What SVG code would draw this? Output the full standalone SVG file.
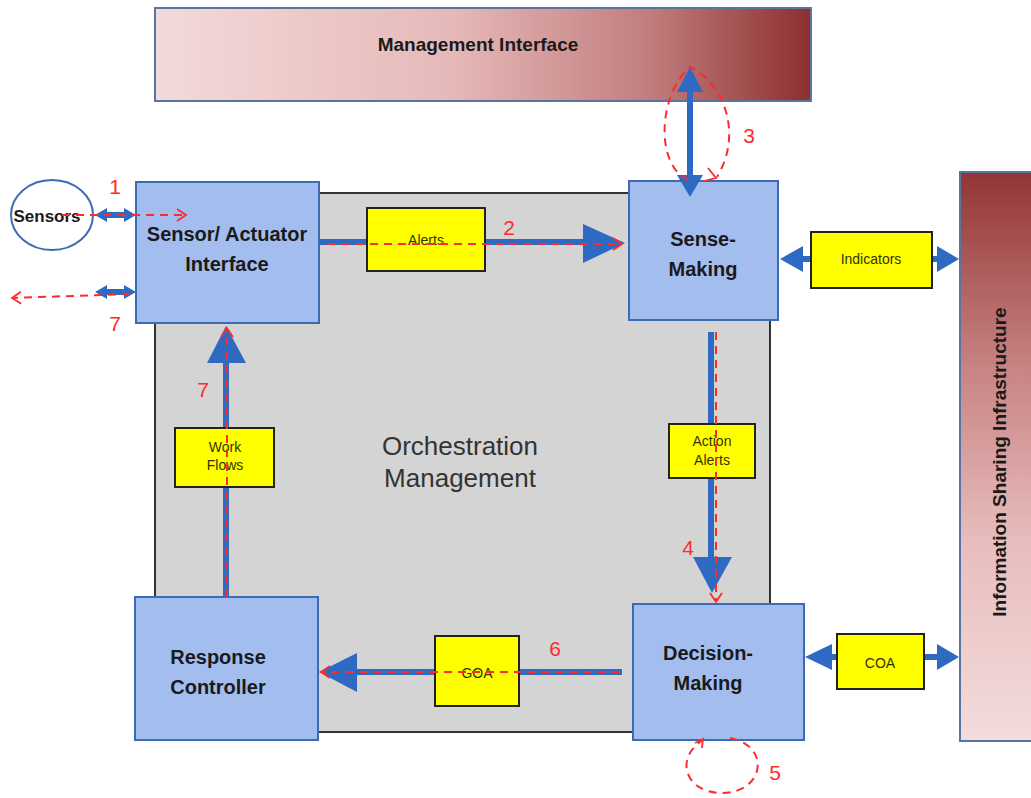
<svg xmlns="http://www.w3.org/2000/svg" width="1031" height="798" viewBox="0 0 1031 798">
  <defs>
    <linearGradient id="mgmtGrad" x1="0" y1="0" x2="1" y2="0">
      <stop offset="0" stop-color="#f3dada"/>
      <stop offset="0.45" stop-color="#e6b9b9"/>
      <stop offset="0.75" stop-color="#c27e7e"/>
      <stop offset="1" stop-color="#8d2f2f"/>
    </linearGradient>
    <linearGradient id="infoGrad" x1="0" y1="0" x2="0" y2="1">
      <stop offset="0" stop-color="#923535"/>
      <stop offset="0.35" stop-color="#c98484"/>
      <stop offset="0.65" stop-color="#e8bdbd"/>
      <stop offset="1" stop-color="#f3dcdc"/>
    </linearGradient>
    <marker id="redHead" markerWidth="14" markerHeight="14" refX="10" refY="7" orient="auto" markerUnits="userSpaceOnUse">
      <path d="M1,1 L10,7 L1,13" fill="none" stroke="#ff2a2a" stroke-width="1.8"/>
    </marker>
  </defs>
  <style>
    .block { fill: #a3bdef; stroke: #3d6bb3; stroke-width: 2; }
    .tag { fill: #ffff00; stroke: #222; stroke-width: 2; }
    .blueLine { stroke: #2e6ac2; stroke-width: 6; fill: none; }
    .blueHead { fill: #2e6ac2; }
    .redDash { stroke: #ff2a2a; stroke-width: 2; stroke-dasharray: 8 6; fill: none; }
    .blockText { font-family: "Liberation Sans", Arial, sans-serif; font-weight: bold; font-size: 20px; fill: #1a1a1a; text-anchor: middle; }
    .tagText { font-family: "Liberation Sans", Arial, sans-serif; font-size: 14px; fill: #333300; text-anchor: middle; }
    .num { font-family: "Liberation Sans", Arial, sans-serif; font-size: 21px; fill: #ff2a2a; text-anchor: middle; }
  </style>

  <rect width="1031" height="798" fill="#ffffff"/>

  <!-- central orchestration area -->
  <g id="orchestration">
    <rect x="155" y="193" width="615" height="539" fill="#d4d4d4" stroke="#333333" stroke-width="2"/>
    <text x="460" y="455" font-family="Liberation Sans, Arial, sans-serif" font-size="26" fill="#333" text-anchor="middle">Orchestration</text>
    <text x="460" y="487" font-family="Liberation Sans, Arial, sans-serif" font-size="26" fill="#333" text-anchor="middle">Management</text>
  </g>

  <!-- management interface bar -->
  <g id="management-interface">
    <rect x="155" y="8" width="656" height="93" fill="url(#mgmtGrad)" stroke="#5a74a0" stroke-width="2"/>
    <text x="478" y="51" font-family="Liberation Sans, Arial, sans-serif" font-weight="bold" font-size="19" fill="#1a1a1a" text-anchor="middle">Management Interface</text>
  </g>

  <!-- information sharing bar -->
  <g id="information-sharing">
    <rect x="960" y="172" width="75" height="569" fill="url(#infoGrad)" stroke="#5a74a0" stroke-width="2"/>
    <text transform="translate(1006,462) rotate(-90)" font-family="Liberation Sans, Arial, sans-serif" font-weight="bold" font-size="19" fill="#1a1a1a" text-anchor="middle">Information Sharing Infrastructure</text>
  </g>

  <g id="sensors">
    <ellipse cx="52" cy="215" rx="41" ry="35" fill="#ffffff" stroke="#3d6bb3" stroke-width="2"/>
    <text x="47" y="222" font-family="Liberation Sans, Arial, sans-serif" font-weight="bold" font-size="17" fill="#1a1a1a" text-anchor="middle">Sensors</text>
  </g>

  <g id="sensor-actuator-interface">
    <rect class="block" x="136" y="182" width="183" height="141"/>
    <text class="blockText" x="227" y="241">Sensor/ Actuator</text>
    <text class="blockText" x="227" y="271">Interface</text>
  </g>

  <g id="sense-making">
    <rect class="block" x="629" y="181" width="149" height="139"/>
    <text class="blockText" x="703" y="246">Sense-</text>
    <text class="blockText" x="703" y="276">Making</text>
  </g>

  <g id="decision-making">
    <rect class="block" x="633" y="604" width="171" height="136"/>
    <text class="blockText" x="708" y="660">Decision-</text>
    <text class="blockText" x="708" y="690">Making</text>
  </g>

  <g id="response-controller">
    <rect class="block" x="135" y="597" width="183" height="143"/>
    <text class="blockText" x="218" y="664">Response</text>
    <text class="blockText" x="218" y="694">Controller</text>
  </g>

  <!-- connectors: solid blue data links -->
  <g id="connectors">
    <!-- Sensors <-> interface -->
    <line class="blueLine" x1="104" y1="215" x2="127" y2="215" stroke-width="3"/>
    <path class="blueHead" d="M95,215 L107,208 L107,222 Z"/>
    <path class="blueHead" d="M136,215 L124,208 L124,222 Z"/>
    <!-- actuator output -->
    <line class="blueLine" x1="104" y1="292" x2="127" y2="292" stroke-width="3"/>
    <path class="blueHead" d="M95,292 L107,285 L107,299 Z"/>
    <path class="blueHead" d="M136,292 L124,285 L124,299 Z"/>

    <!-- Alerts: interface -> sense-making -->
    <line class="blueLine" x1="319" y1="242" x2="590" y2="242"/>
    <path class="blueHead" d="M625,243 L583,224 L583,263 Z"/>

    <!-- management <-> sense-making -->
    <line class="blueLine" x1="690" y1="85" x2="690" y2="180"/>
    <path class="blueHead" d="M690,67 L677,92 L703,92 Z"/>
    <path class="blueHead" d="M690,197 L677,175 L703,175 Z"/>

    <!-- indicators -->
    <line class="blueLine" x1="795" y1="259" x2="945" y2="259"/>
    <path class="blueHead" d="M780,259 L803,246 L803,272 Z"/>
    <path class="blueHead" d="M959,259 L937,246 L937,272 Z"/>

    <!-- action alerts: sense-making -> decision-making -->
    <line class="blueLine" x1="711" y1="332" x2="711" y2="565"/>
    <path class="blueHead" d="M712,593 L693,557 L732,557 Z"/>

    <!-- COA -->
    <line class="blueLine" x1="820" y1="657" x2="945" y2="657"/>
    <path class="blueHead" d="M805,657 L832,644 L832,670 Z"/>
    <path class="blueHead" d="M959,657 L937,644 L937,670 Z"/>

    <!-- GOA: decision-making -> response controller -->
    <line class="blueLine" x1="622" y1="672" x2="350" y2="672"/>
    <path class="blueHead" d="M319,672 L357,653 L357,692 Z"/>

    <!-- work flows: response controller -> interface -->
    <line class="blueLine" x1="226" y1="597" x2="226" y2="355"/>
    <path class="blueHead" d="M226,326 L207,363 L246,363 Z"/>
  </g>

  <g id="alerts">
    <rect class="tag" x="367" y="208" width="118" height="63"/>
    <text class="tagText" x="426" y="245">Alerts</text>
  </g>

  <g id="indicators">
    <rect class="tag" x="811" y="232" width="121" height="56"/>
    <text class="tagText" x="871" y="264" font-size="13">Indicators</text>
  </g>

  <g id="action-alerts">
    <rect class="tag" x="669" y="424" width="86" height="54"/>
    <text class="tagText" x="712" y="446" font-size="13">Action</text>
    <text class="tagText" x="712" y="465" font-size="13">Alerts</text>
  </g>

  <g id="work-flows">
    <rect class="tag" x="175" y="428" width="99" height="59"/>
    <text class="tagText" x="225" y="452" font-size="13">Work</text>
    <text class="tagText" x="225" y="470" font-size="13">Flows</text>
  </g>

  <g id="goa">
    <rect class="tag" x="435" y="636" width="84" height="70"/>
    <text class="tagText" x="477" y="678" font-size="16">GOA</text>
  </g>

  <g id="coa">
    <rect class="tag" x="837" y="634" width="87" height="55"/>
    <text class="tagText" x="880" y="668" font-size="16">COA</text>
  </g>

  <!-- connectors: dashed red process flow, drawn on top -->
  <g id="flow-steps">
    <line class="redDash" x1="62" y1="215" x2="186" y2="215" marker-end="url(#redHead)"/>
    <line class="redDash" x1="130" y1="294" x2="12" y2="298" marker-end="url(#redHead)"/>
    <line class="redDash" x1="328" y1="244" x2="622" y2="244" marker-end="url(#redHead)"/>
    <path class="redDash" d="M688,180 C655,165 658,95 690,67 C720,80 745,130 717,177"/>
    <path d="M708,168 L716,178 L704,181" fill="none" stroke="#ff2a2a" stroke-width="1.8"/>
    <line class="redDash" x1="716" y1="332" x2="716" y2="602" marker-end="url(#redHead)"/>
    <path class="redDash" d="M730,738 C772,746 764,793 722,793 C685,793 674,758 703,740"/>
    <path d="M695,743 L703,739 L702,748" fill="none" stroke="#ff2a2a" stroke-width="1.8"/>
    <line class="redDash" x1="620" y1="672" x2="321" y2="672" marker-end="url(#redHead)"/>
    <line class="redDash" x1="227" y1="597" x2="227" y2="328" marker-end="url(#redHead)"/>
  </g>

  <!-- step numbers -->
  <g id="step-labels">
    <text class="num" x="115" y="194">1</text>
    <text class="num" x="509" y="235">2</text>
    <text class="num" x="749" y="143">3</text>
    <text class="num" x="688" y="555">4</text>
    <text class="num" x="775" y="780">5</text>
    <text class="num" x="555" y="656">6</text>
    <text class="num" x="203" y="397">7</text>
    <text class="num" x="115" y="331">7</text>
  </g>
</svg>
